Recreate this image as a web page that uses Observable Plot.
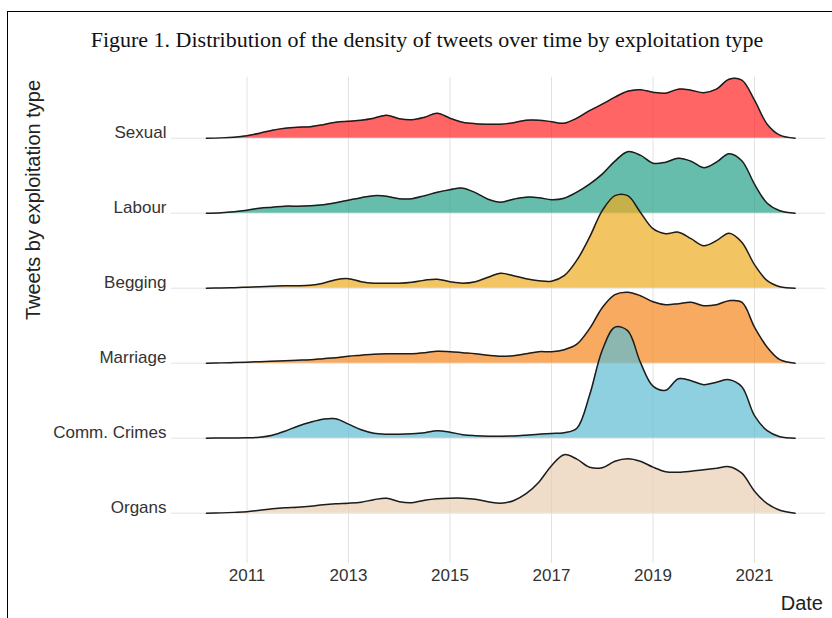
<!DOCTYPE html>
<html>
<head>
<meta charset="utf-8">
<script src="https://cdn.jsdelivr.net/npm/d3@7"></script>
<script src="https://cdn.jsdelivr.net/npm/@observablehq/plot@0.6"></script>
<style>
  html, body { margin: 0; padding: 0; background: #fff; }
  #wrap { position: relative; width: 832px; height: 618px; overflow: hidden; }
  #wrap svg { position: absolute; left: 0; top: 0; }
  #frame { position: absolute; left: 7px; top: 11px; width: 840px; height: 640px;
           border-left: 1.5px solid #000; border-top: 1.5px solid #000; pointer-events: none; }
</style>
</head>
<body>
<div id="wrap"><div id="frame"></div></div>
<script>
// ---- data (scaled density; 75 units = one row) ----
const titleText = "Figure 1. Distribution of the density of tweets over time by exploitation type";
const xTitle = "Date";
const yTitle = "Tweets by exploitation type";
const categories = ["Sexual", "Labour", "Begging", "Marriage", "Comm. Crimes", "Organs"];
const colors = ["#FF2424", "#26A187", "#EEAB1F", "#F5861C", "#5EBCD3", "#EACEB2"];
const xTicks = [2011, 2013, 2015, 2017, 2019, 2021];
const years = [2010.2, 2010.5, 2010.75,
  2011, 2011.25, 2011.5, 2011.75, 2012, 2012.25, 2012.5, 2012.75,
  2013, 2013.25, 2013.5, 2013.75, 2014, 2014.25, 2014.5, 2014.75,
  2015, 2015.25, 2015.5, 2015.75, 2016, 2016.25, 2016.5, 2016.75,
  2017, 2017.25, 2017.5, 2017.75, 2018, 2018.25, 2018.5, 2018.75,
  2019, 2019.25, 2019.5, 2019.75, 2020, 2020.25, 2020.5, 2020.75,
  2021, 2021.25, 2021.5, 2021.8];
const sexual = [0, 0.3, 1,
  2.5, 5, 8, 10, 11, 11.5, 13.5, 16,
  17, 18, 20, 23, 19.5, 18.5, 21, 25,
  20, 16, 14.5, 14, 14, 15.5, 18, 18,
  16.5, 15, 20, 27.5, 34, 41, 47, 48.5,
  46, 45, 49, 48, 45.5, 49, 59, 58,
  38, 14, 3, 0];
const labour = [0, 0.5, 1.5,
  3, 5, 6, 7, 7, 7.5, 8.5, 10.5,
  13, 15.5, 17.5, 17, 14.5, 14.5, 17.5, 21,
  23.5, 25, 20.5, 14, 11, 14, 16, 15.5,
  13.5, 15, 21, 29, 39, 52, 61.5, 58,
  50, 51, 55, 52, 45.5, 51, 59.5, 52.5,
  29, 10, 2.5, 0];
const begging = [0, 0.2, 0.5,
  1, 1.5, 2, 2.5, 2.5, 3, 5, 8.5,
  9.5, 6.5, 5, 5, 5, 6, 8, 9,
  6.5, 5, 6.5, 11, 15, 12.5, 9.5, 7.5,
  7, 12.5, 28, 51, 77.5, 92.5, 92.5, 76,
  59.5, 54.5, 56, 49.5, 42.5, 47.5, 55, 46,
  23.5, 7.5, 1.5, 0];
const marriage = [0, 0.3, 0.6,
  1, 1.5, 2, 2.5, 3, 3.5, 4.5, 5.5,
  7, 8, 9, 9.5, 9.5, 9.5, 10.5, 12,
  11.5, 10.5, 9.5, 8, 7, 7.5, 9.5, 11.5,
  11.5, 13.5, 19, 34.5, 55.5, 68.5, 71, 67.5,
  61.5, 58.5, 59.5, 61, 57.5, 58.5, 62.5, 61,
  36, 16, 3.5, 0];
const commCrimes = [0, 0.1, 0.2,
  0.4, 1, 3, 7, 12, 16, 19, 19.5,
  14, 8.5, 5, 4, 4, 4.5, 5.5, 7.5,
  6, 3.5, 2.5, 2, 2, 2.2, 3, 4,
  4.7, 5.5, 10, 43, 88, 111, 107.5, 76,
  52, 48, 59.5, 57.5, 53.5, 56, 58.5, 51.5,
  22.5, 7.5, 1.5, 0];
const organs = [0, 0.3, 0.8,
  1.5, 3, 4.5, 5.5, 6, 7, 8.5, 9.5,
  10, 11, 13.5, 15, 11.5, 10.5, 13, 14.5,
  15, 15, 14, 11.5, 10, 12.5, 19.5, 31,
  47.5, 58.5, 54, 46, 45.5, 52, 54.5, 52,
  46, 41.5, 41, 42, 43.5, 45, 46.5, 40,
  22, 9.5, 3, 0];
const densityPerRow = 75;

// ---- build table ----
const series = [sexual, labour, begging, marriage, commCrimes, organs];
const nRows = categories.length;
const table = [];
categories.forEach((c, i) => {
  years.forEach((yr, j) => {
    table.push({category: c, row: nRows - 1 - i, year: yr, density: series[i][j]});
  });
});
const rowTicks = categories.map((c, i) => nRows - 1 - i);

const ridgeMarks = categories.flatMap((c, i) => {
  const d = table.filter(t => t.category === c);
  const top = t => t.row + t.density / densityPerRow;
  return [
    Plot.areaY(d, {x: "year", y1: "row", y2: top, fill: colors[i], fillOpacity: 0.7, curve: "catmull-rom"}),
    Plot.lineY(d, {x: "year", y: top, stroke: "#1c1c1c", strokeWidth: 1.5, curve: "catmull-rom"})
  ];
});

const plot = Plot.plot({
  width: 832,
  height: 618,
  marginLeft: 171,
  marginRight: 7,
  marginTop: 76.7,
  marginBottom: 55,
  x: {domain: [2009.512, 2022.399], label: null},
  y: {domain: [-0.671, 5.813], label: null},
  style: {fontFamily: "'Liberation Sans', Arial, sans-serif", background: "transparent", overflow: "visible"},
  marks: [
    Plot.ruleX(xTicks, {stroke: "#e2e2e2", strokeWidth: 1}),
    Plot.ruleY(rowTicks, {stroke: "#e2e2e2", strokeWidth: 1}),
    ...ridgeMarks,
    Plot.axisX(xTicks, {tickSize: 0, tickPadding: 5, fontSize: 17, fill: "#333", tickFormat: d => String(d), label: null}),
    Plot.axisY(rowTicks, {tickSize: 0, tickPadding: 5, fontSize: 17, fill: "#333", lineAnchor: "bottom",
      tickFormat: r => categories[nRows - 1 - r], label: null})
  ]
});

document.getElementById("wrap").insertBefore(plot, document.getElementById("frame"));

const svg = d3.select(plot);
svg.append("text")
  .attr("x", 427).attr("y", 47)
  .attr("text-anchor", "middle")
  .style("font-family", "'Liberation Serif', 'Times New Roman', serif")
  .style("font-size", "22px")
  .attr("fill", "#111")
  .text(titleText);
svg.append("text")
  .attr("transform", "translate(40,200) rotate(-90)")
  .attr("text-anchor", "middle")
  .style("font-size", "20px")
  .attr("fill", "#222")
  .text(yTitle);
svg.append("text")
  .attr("x", 823).attr("y", 610)
  .attr("text-anchor", "end")
  .style("font-size", "20px")
  .attr("fill", "#222")
  .text(xTitle);
</script>
</body>
</html>
